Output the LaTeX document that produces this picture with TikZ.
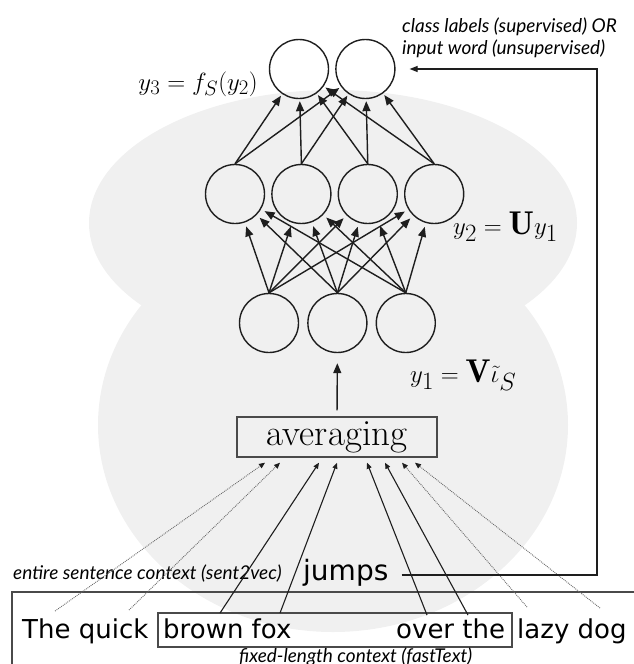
\documentclass[tikz,border=0pt]{standalone}
\usepackage{fontspec}
\newfontfamily\wordfont{DejaVu Sans}
\newfontfamily\notefont{Lato}
\usepackage{xcolor}
\definecolor{cInk}{HTML}{1E1E1E}
\definecolor{cBlob}{HTML}{F0F0F0}
\definecolor{cFrame}{HTML}{4A4A4A}
\definecolor{cDot}{HTML}{6A6A6A}
\usepackage{tikz}
\usetikzlibrary{positioning,arrows.meta,calc}
\tikzset{
  node-neuron/.style={draw=cInk,line width=1.4pt,circle,minimum size=59pt,inner sep=0pt},
  node-avg/.style={draw=cFrame,line width=1.4pt,minimum width=200pt,minimum height=40pt,
    inner sep=0pt,font=\fontsize{37}{40}\selectfont},
  node-word/.style={inner sep=0pt,anchor=base west,font=\wordfont\fontsize{26}{30}\selectfont},
  node-note/.style={inner sep=0pt,anchor=base west,font=\notefont\itshape\fontsize{19}{22}\selectfont},
  node-eq/.style={inner sep=0pt,anchor=base west,font=\fontsize{33}{36}\selectfont},
  % pfeile im netz und vom satz zum mittelwert
  arrow-net/.style={-{Triangle[length=10pt,width=8pt]},line width=1.4pt,draw=cInk,shorten >=2pt},
  arrow-word/.style={-{Triangle[length=6pt,width=5pt]},line width=1.1pt,draw=cInk},
  arrow-skip/.style={-{Triangle[length=6pt,width=5pt,color=cInk]},line width=0.9pt,
    densely dotted,draw=cDot},
  arrow-fb/.style={-{Triangle[length=8pt,width=6pt]},line width=1.2pt,draw=cInk},
  ctx-box/.style={draw=cFrame,line width=1.2pt},
  blob/.style={fill=cBlob},
}
\begin{document}
\begin{tikzpicture}[x=1pt,y=-1pt,node distance=6pt]
  \useasboundingbox (0,0) rectangle (634,664);
  \clip (0,0) rectangle (634,664);
  \fill[blob] (333,223) ellipse [x radius=244pt,y radius=133pt];
  \fill[blob] (333,425) ellipse [x radius=235pt,y radius=207pt];

  \node[node-neuron] (o1) at (299,69) {};
  \node[node-neuron,right=of o1] (o2) {};
  \node[node-neuron] (h1) at (235,194) {};
  \node[node-neuron,right=of h1] (h2) {};
  \node[node-neuron,right=of h2] (h3) {};
  \node[node-neuron,right=of h3] (h4) {};
  \node[node-neuron] (i1) at (269,323) {};
  \node[node-neuron,right=8pt of i1] (i2) {};
  \node[node-neuron,right=8pt of i2] (i3) {};
  \node[node-avg] (avg) at (337,437) {averaging};

  \node[node-eq,anchor=base east,font=\fontsize{29}{32}\selectfont] (eq3) at (258,90) {$y_3 = f_S(y_2)$};
  \node[node-eq] (eq2) at (453,234) {$y_2 = \mathbf{U}y_1$};
  \node[node-eq] (eq1) at (410,382) {$y_1 = \mathbf{V}\tilde{\iota}_S$};
  \node[node-note] (cl1) at (402,32) {class labels (supervised) OR};
  \node[node-note] (cl2) at (402,54) {input word (unsupervised)};

  \draw[arrow-net] (h1.north) -- (o1);
  \draw[arrow-net] (h2.north) -- (o1);
  \draw[arrow-net] (h3.north) -- (o1);
  \draw[arrow-net] (h4.north) -- (o1);
  \draw[arrow-net] (h1.north) -- (o2);
  \draw[arrow-net] (h2.north) -- (o2);
  \draw[arrow-net] (h3.north) -- (o2);
  \draw[arrow-net] (h4.north) -- (o2);
  \draw[arrow-net,shorten >=4pt] (i1.north) -- (h1);
  \draw[arrow-net,shorten >=4pt] (i1.north) -- (h2);
  \draw[arrow-net,shorten >=4pt] (i1.north) -- (h3);
  \draw[arrow-net,shorten >=4pt] (i1.north) -- (h4);
  \draw[arrow-net,shorten >=4pt] (i2.north) -- (h1);
  \draw[arrow-net,shorten >=4pt] (i2.north) -- (h2);
  \draw[arrow-net,shorten >=4pt] (i2.north) -- (h3);
  \draw[arrow-net,shorten >=4pt] (i2.north) -- (h4);
  \draw[arrow-net,shorten >=4pt] (i3.north) -- (h1);
  \draw[arrow-net,shorten >=4pt] (i3.north) -- (h2);
  \draw[arrow-net,shorten >=4pt] (i3.north) -- (h3);
  \draw[arrow-net,shorten >=4pt] (i3.north) -- (h4);
  \draw[arrow-net,shorten <=6pt,shorten >=10pt] (avg.north) -- (i2.south);

  % satz unten
  \draw[ctx-box] (12,680) |- (650,592);
  \node[ctx-box,minimum width=354pt,minimum height=34pt,inner sep=0pt] (fl-box) at (335,630) {};
  \node[node-word] (tq) at (22,638) {The quick};
  \node[node-word] (bf) at (163,638) {brown fox};
  \node[node-word] (ot) at (396,638) {over the};
  \node[node-word] (ld) at (517,638) {lazy dog};
  \node[node-word,font=\wordfont\fontsize{28}{30}\selectfont] (jp) at (303,580) {jumps};
  \node[node-note] (sv) at (13,579) {entire sentence context (sent2vec)};
  \node[node-note] (ft) at (239,662) {fixed-length context (fastText)};

  \draw[arrow-skip] ([shift={(33pt,7pt)}]tq.north west) -- ([shift={(-72pt,-5pt)}]avg.south);
  \draw[arrow-skip] ([shift={(107pt,8pt)}]tq.north west) -- ([shift={(-57pt,-5pt)}]avg.south);
  \draw[arrow-word] ([shift={(57pt,5pt)}]bf.north west) -- ([shift={(-18pt,-5pt)}]avg.south);
  \draw[arrow-word] ([shift={(117pt,5pt)}]bf.north west) -- ([shift={(0pt,-5pt)}]avg.south);
  \draw[arrow-word] ([shift={(31pt,3pt)}]ot.north west) -- ([shift={(30pt,-5pt)}]avg.south);
  \draw[arrow-word] ([shift={(72pt,3pt)}]ot.north west) -- ([shift={(48pt,-5pt)}]avg.south);
  \draw[arrow-skip] ([shift={(10pt,11pt)}]ld.north west) -- ([shift={(65pt,-5pt)}]avg.south);
  \draw[arrow-skip] ([shift={(83pt,10pt)}]ld.north west) -- ([shift={(78pt,-5pt)}]avg.south);

  \coordinate (fb-turn) at (597,575);
  \draw[arrow-fb] ($(jp.east |- fb-turn)+(13pt,0)$) -- (fb-turn) |- ([xshift=14pt]o2.east);
\end{tikzpicture}
\end{document}
